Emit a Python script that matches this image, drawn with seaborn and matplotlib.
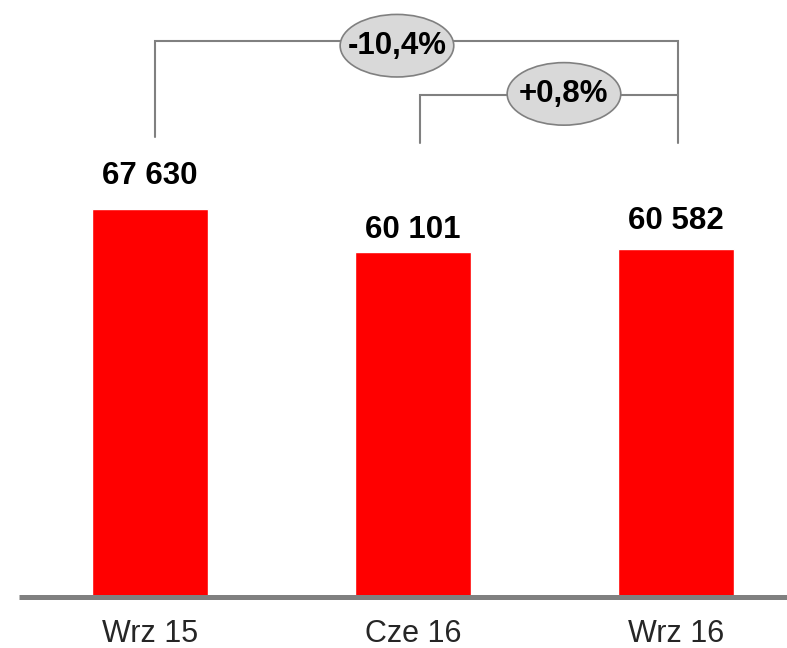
import matplotlib
matplotlib.use("Agg")
import matplotlib.pyplot as plt
from matplotlib.patches import Ellipse
import seaborn as sns
import pandas as pd

categories = ["Wrz 15", "Cze 16", "Wrz 16"]
values = [67630, 60101, 60582]
value_labels = ["67 630", "60 101", "60 582"]
change_labels = ["-10,4%", "+0,8%"]

sns.set_theme(style="white")
plt.rcParams["font.family"] = ["Liberation Sans", "DejaVu Sans"]

df = pd.DataFrame({"cat": categories, "val": values})

fig = plt.figure(figsize=(7.87, 6.48), dpi=100)
ax = fig.add_axes([19 / 787, 51 / 648, 1 - 19 / 787, 596.5 / 648])

sns.barplot(data=df, x="cat", y="val", color="#ff0000", saturation=1,
            width=0.441, ax=ax)

ax.set_xlim(-0.498, 2.422)
ax.set_ylim(0, 103980)

for s in ["top", "right", "left"]:
    ax.spines[s].set_visible(False)
ax.spines["bottom"].set_color("#808080")
ax.spines["bottom"].set_linewidth(3.6)
ax.spines["bottom"].set_capstyle("butt")
ax.set_yticks([])
ax.set_xlabel("")
ax.set_ylabel("")
ax.tick_params(axis="x", length=0, pad=16, labelsize=22)

# value labels
label_offsets = [18, 10, 14.5]
for i, (v, lab) in enumerate(zip(values, value_labels)):
    ax.annotate(lab, (i, v), xytext=(0, label_offsets[i]), textcoords="offset points",
                ha="center", va="baseline", fontsize=22.5, fontweight="bold",
                color="black")

# brackets
gray = "#808080"
lw = 1.5
y_outer = 96913
y_inner = 87502
ax.plot([0.019, 0.019, 2.008, 2.008], [80181, y_outer, y_outer, 79136],
        color=gray, lw=lw, solid_joinstyle="miter", clip_on=False)
ax.plot([1.027, 1.027, 2.008], [79136, y_inner, y_inner],
        color=gray, lw=lw, solid_joinstyle="miter", clip_on=False)

ell_h = 10900
for cx, cy, lab in [(0.939, 96100, change_labels[0]), (1.574, 87700, change_labels[1])]:
    e = Ellipse((cx, cy), width=0.432, height=ell_h, facecolor="#d9d9d9",
                edgecolor=gray, lw=1.2, zorder=5, clip_on=False)
    ax.add_patch(e)
    ax.text(cx, cy, lab, ha="center", va="center", fontsize=22.5,
            fontweight="bold", color="black", zorder=6)

fig.savefig("out.png", dpi=100)
